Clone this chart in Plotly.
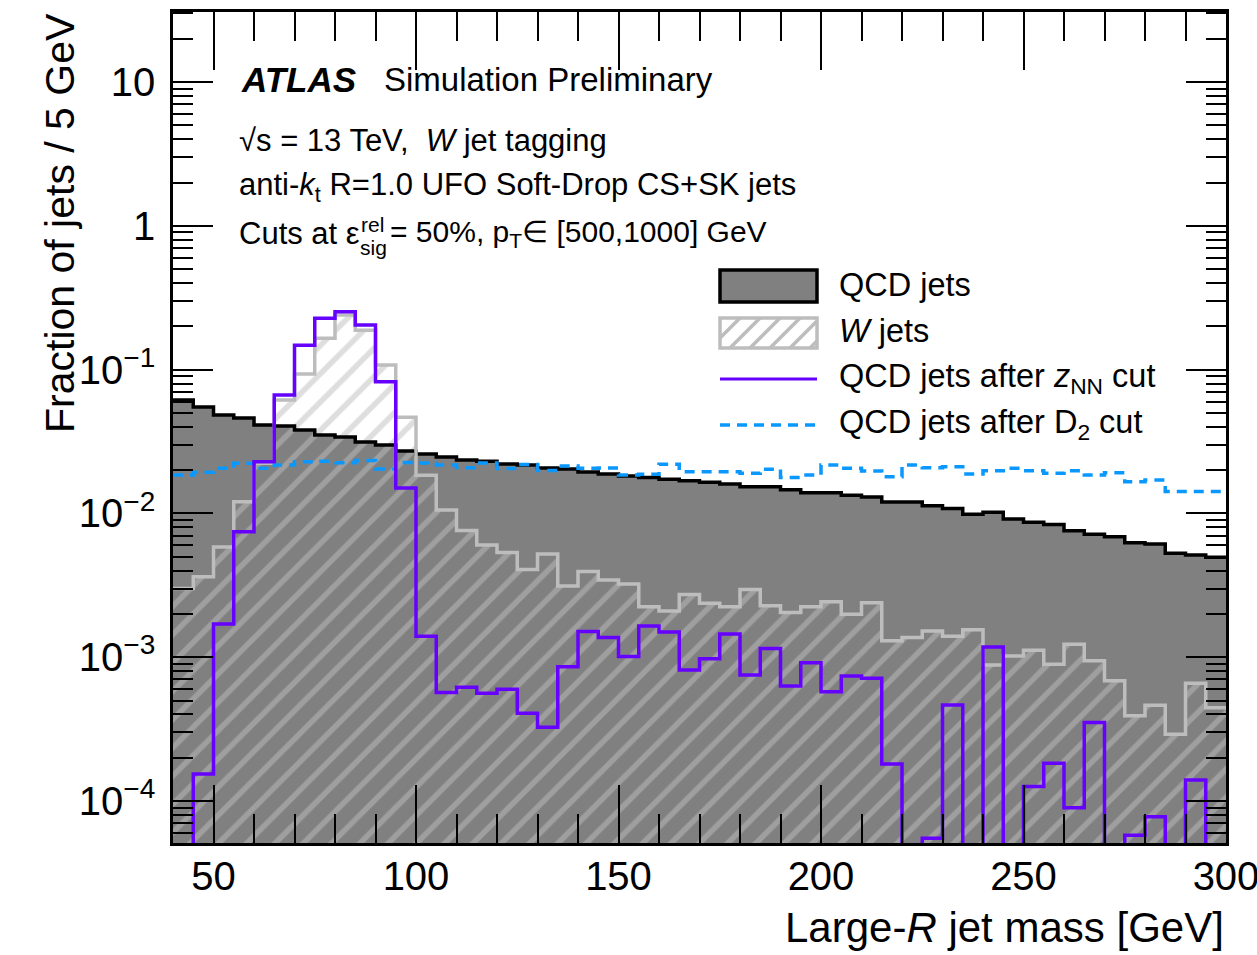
import numpy as np
import plotly.graph_objects as go

# ---------------- data (fraction of jets per 5 GeV bin, 40-300 GeV) ----------------
bin_edges = list(range(40, 305, 5))

qcd_jets = [0.0615, 0.0550, 0.0483, 0.0460, 0.0412, 0.0405, 0.0380, 0.0351, 0.0340, 0.0314,
            0.0299, 0.0272, 0.0259, 0.0247, 0.0235, 0.0231, 0.0221, 0.0217, 0.0207, 0.0204,
            0.0194, 0.0188, 0.0182, 0.0178, 0.0173, 0.0169, 0.0165, 0.0160, 0.0153, 0.0153,
            0.0146, 0.0139, 0.0139, 0.0134, 0.0130, 0.0120, 0.0120, 0.0113, 0.0108, 0.00986,
            0.0102, 0.00914, 0.00867, 0.00839, 0.00758, 0.00716, 0.00689, 0.00625, 0.00612, 0.00528,
            0.00514, 0.00496]

w_jets = [0.00301, 0.00363, 0.00583, 0.01205, 0.0223, 0.0615, 0.0931, 0.165, 0.240, 0.188,
          0.1076, 0.0466, 0.0184, 0.01057, 0.00760, 0.00602, 0.00535, 0.00408, 0.00523, 0.00313,
          0.00394, 0.00344, 0.00323, 0.00224, 0.00210, 0.00273, 0.00237, 0.00224, 0.00296, 0.00228,
          0.00205, 0.00224, 0.00243, 0.00199, 0.00239, 0.00130, 0.00137, 0.00152, 0.00140, 0.00155,
          0.000883, 0.00102, 0.00112, 0.000893, 0.00123, 0.000946, 0.000687, 0.000392, 0.000463, 0.000291,
          0.000659, 0.000445]

qcd_after_znn = [0, 0.000154, 0.00170, 0.00747, 0.0229, 0.0665, 0.148, 0.228, 0.253, 0.204,
                 0.0824, 0.01504, 0.00140, 0.000569, 0.000618, 0.000561, 0.000598, 0.000407, 0.000326, 0.000859,
                 0.00151, 0.00137, 0.00101, 0.00165, 0.00150, 0.000815, 0.000977, 0.00145, 0.000752, 0.00115,
                 0.000631, 0.000916, 0.000575, 0.000740, 0.000713, 0.000181, 0, 0.000055, 0.000466, 0,
                 0.00118, 0, 0.000126, 0.000183, 0.0000898, 0.000351, 0, 0.0000577, 0.0000778, 0,
                 0.000140, 0]

qcd_after_d2 = [0.0185, 0.0193, 0.0206, 0.0223, 0.0206, 0.0217, 0.0229, 0.0231, 0.0225, 0.0233,
                0.0204, 0.0226, 0.0224, 0.0217, 0.0208, 0.0224, 0.0205, 0.0219, 0.0199, 0.0214,
                0.0206, 0.0207, 0.0185, 0.0187, 0.0220, 0.0195, 0.0195, 0.0195, 0.0190, 0.0203,
                0.0178, 0.0185, 0.0217, 0.0206, 0.0197, 0.0180, 0.0217, 0.0208, 0.0211, 0.0188,
                0.0198, 0.0206, 0.0198, 0.0190, 0.0198, 0.0185, 0.0192, 0.0166, 0.0171, 0.0142,
                0.0142, 0.0142]

x_tick_vals = [50, 100, 150, 200, 250, 300]
y_tick_vals = [1e-4, 1e-3, 1e-2, 1e-1, 1, 10]
y_tick_text = ["10<sup>\u22124</sup>", "10<sup>\u22123</sup>", "10<sup>\u22122</sup>",
               "10<sup>\u22121</sup>", "1", "10"]

# ---------------- styling ----------------
FONT = "Liberation Sans, Arial, Helvetica, sans-serif"
W, H = 1257, 955
ML, MR, MT, MB = 173, 31, 12, 112
PW, PH = W - ML - MR, H - MT - MB

QCD_FILL = "#808080"
W_COL = "#bdbdbd"
ZNN_COL = "#6600ff"
D2_COL = "#0a98ff"
FLOOR = 1e-7  # empty bins drawn below the axis


def px(x):
    return (x - ML) / PW


def py(y):
    return (H - MB - y) / PH


edges = np.array(bin_edges, dtype=float)
centers = (edges[:-1] + edges[1:]) / 2
widths = np.diff(edges)


def step(vals):
    v = [val if val > 0 else FLOOR for val in vals]
    return list(edges), v + [v[-1]]


fig = go.Figure()

# QCD filled histogram
fig.add_trace(go.Bar(x=centers, y=qcd_jets, width=widths,
                     marker=dict(color=QCD_FILL, line=dict(color=QCD_FILL, width=1)),
                     showlegend=False, hoverinfo="skip"))
# W jets hatched histogram
fig.add_trace(go.Bar(x=centers, y=w_jets, width=widths,
                     marker=dict(color="rgba(0,0,0,0)", line=dict(width=0),
                                 pattern=dict(shape="/", fgcolor=W_COL, bgcolor="rgba(0,0,0,0)",
                                              size=20, solidity=0.28, fillmode="overlay")),
                     showlegend=False, hoverinfo="skip"))

xs, ys = step(qcd_jets)
fig.add_trace(go.Scatter(x=xs, y=ys, mode="lines", line=dict(shape="hv", color="black", width=3.5),
                         showlegend=False))
xs, ys = step(w_jets)
fig.add_trace(go.Scatter(x=xs, y=ys, mode="lines", line=dict(shape="hv", color=W_COL, width=3.5),
                         showlegend=False))
xs, ys = step(qcd_after_d2)
fig.add_trace(go.Scatter(x=xs, y=ys, mode="lines",
                         line=dict(shape="hv", color=D2_COL, width=3.5, dash="10px,7px"),
                         showlegend=False))
xs, ys = step(qcd_after_znn)
fig.add_trace(go.Scatter(x=xs, y=ys, mode="lines", line=dict(shape="hv", color=ZNN_COL, width=3.5),
                         showlegend=False))

fig.update_layout(
    width=W, height=H,
    margin=dict(l=ML, r=MR, t=MT, b=MB, pad=0, autoexpand=False),
    paper_bgcolor="white", plot_bgcolor="white",
    barmode="overlay", bargap=0,
    font=dict(family=FONT, color="black"),
    showlegend=False,
)

fig.update_xaxes(
    range=[40, 300], showgrid=False, zeroline=False, automargin=False,
    showline=True, linecolor="black", linewidth=2.5, mirror="ticks",
    ticks="inside", ticklen=58, tickwidth=2, tickcolor="black",
    tickvals=x_tick_vals, tickfont=dict(size=40, family=FONT),
    ticklabeloverflow="allow", ticklabelstandoff=-4,
    minor=dict(ticks="inside", dtick=10, ticklen=29, tickwidth=2, tickcolor="black", showgrid=False),
)
fig.update_yaxes(
    type="log", range=[-4.292, 1.487], showgrid=False, zeroline=False, automargin=False,
    showline=True, linecolor="black", linewidth=2.5, mirror="ticks",
    ticks="inside", ticklen=40, tickwidth=2, tickcolor="black",
    tickvals=y_tick_vals, ticktext=y_tick_text, tickfont=dict(size=40, family=FONT),
    ticklabelstandoff=7,
    minor=dict(ticks="inside", dtick="D1", ticklen=20, tickwidth=2, tickcolor="black", showgrid=False),
)

ann = []


def text(x, y, s, size, xanchor="left", **kw):
    ann.append(dict(x=px(x), y=py(y), xref="paper", yref="paper", text=s, showarrow=False,
                    xanchor=xanchor, yanchor="middle", font=dict(size=size, family=FONT, color="black"),
                    **kw))


# axis titles
text(60, 223, "Fraction of jets / 5 GeV", 41, xanchor="center", textangle=-90)
text(1226, 927, "Large-<i>R</i> jet mass [GeV]", 42, xanchor="right")

# ATLAS label block
text(239, 80, "<b><i>ATLAS</i></b>", 35)
text(382, 80, "Simulation Preliminary", 33)
text(237, 140, "\u221as = 13 TeV,  <i>W</i> jet tagging", 31)
text(237, 187, "anti-<i>k</i><sub>t</sub> R=1.0 UFO Soft-Drop CS+SK jets", 31)
text(237, 233, "Cuts at \u03b5", 31)
text(359, 224, "rel", 21)
text(358, 247, "sig", 21)
text(388, 233, "= 50%, p<sub>T</sub>\u2208 [500,1000] GeV", 30)

# legend
text(837, 285, "QCD jets", 32.5)
text(837, 331, "<i>W</i> jets", 32.5)
text(837, 378, "QCD jets after <i>z</i><sub>NN</sub> cut", 32.5)
text(837, 424, "QCD jets after D<sub>2</sub> cut", 32.5)

shapes = []
bx0, bx1 = 720, 817
# QCD box
shapes.append(dict(type="rect", xref="paper", yref="paper", x0=px(bx0), x1=px(bx1),
                   y0=py(302), y1=py(270), fillcolor=QCD_FILL, line=dict(color="black", width=3.5)))
# W box with hatching
wy0, wy1 = 348, 318
hh = wy0 - wy1
for a in range(bx0 - hh, bx1, 20):
    x_start, y_start = a, wy0
    x_end, y_end = a + hh, wy1
    if x_start < bx0:
        y_start = wy0 - (bx0 - x_start)
        x_start = bx0
    if x_end > bx1:
        y_end = wy1 + (x_end - bx1)
        x_end = bx1
    if x_end <= x_start:
        continue
    shapes.append(dict(type="line", xref="paper", yref="paper", x0=px(x_start), y0=py(y_start),
                       x1=px(x_end), y1=py(y_end), line=dict(color=W_COL, width=3.5)))
shapes.append(dict(type="rect", xref="paper", yref="paper", x0=px(bx0), x1=px(bx1),
                   y0=py(wy0), y1=py(wy1), fillcolor="rgba(0,0,0,0)", line=dict(color=W_COL, width=3.5)))
# line keys
shapes.append(dict(type="line", xref="paper", yref="paper", x0=px(bx0), x1=px(bx1),
                   y0=py(379), y1=py(379), line=dict(color=ZNN_COL, width=3)))
shapes.append(dict(type="line", xref="paper", yref="paper", x0=px(bx0), x1=px(bx1),
                   y0=py(425), y1=py(425), line=dict(color=D2_COL, width=3.5, dash="10px,7px")))

fig.update_layout(annotations=ann, shapes=shapes)

fig.write_html("out.html")
